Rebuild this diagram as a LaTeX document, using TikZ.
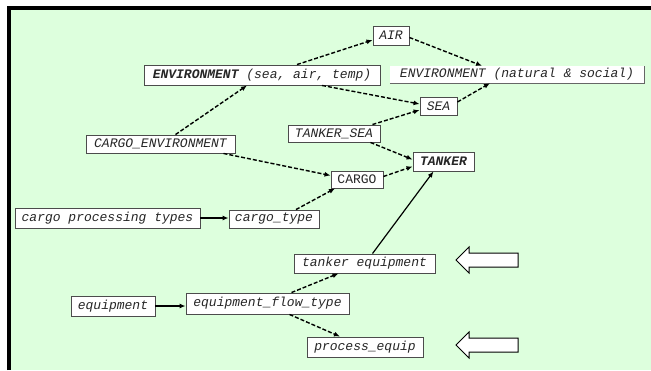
\documentclass[tikz,border=0pt]{standalone}
\usepackage{fontspec}
\setmonofont{Liberation Mono}
\usetikzlibrary{arrows.meta,shadows}
\definecolor{paneGreen}{RGB}{221,255,221}
\begin{document}
\begin{tikzpicture}[x=1pt,y=-1pt,
  box/.style={draw=black!70, line width=0.9pt, fill=white, inner sep=0pt,
    font=\fontsize{13}{13}\selectfont\ttfamily\itshape, text=black!85,
    drop shadow={shadow xshift=1.2pt, shadow yshift=-1.2pt, fill=black!45, opacity=1}},
  plainbox/.style={fill=white, inner sep=0pt,
    font=\fontsize{13}{13}\selectfont\ttfamily\itshape, text=black!85},
  link/.style={line width=1.4pt, dash pattern=on 4pt off 2pt, -{Latex[length=6pt,width=5pt]}},
  solidlink/.style={line width=1.2pt, -{Latex[length=6pt,width=5pt]}},
  hollow/.style={draw=black, line width=1pt, fill=white}]
\useasboundingbox (0,0) rectangle (651,370);
% panel
\fill[white] (0,0) rectangle (651,370);
\fill[paneGreen] (9,8) rectangle (651,370);
\draw[line width=3.5pt] (9,370) -- (9,8) -- (651,8);

% nodes
\node[box, minimum width=36pt, minimum height=19pt] (air) at (391,35.5) {AIR};
\node[box, minimum width=236pt, minimum height=20pt] (envs) at (262,75) {\textbf{ENVIRONMENT} (sea, air, temp)};
\node[plainbox, minimum width=254pt, minimum height=17pt] (envn) at (517,74.5) {ENVIRONMENT (natural \& social)};
\draw[black!60, line width=1.2pt] (envn.south west) -- (envn.south east) -- (envn.north east);
\node[box, minimum width=37pt, minimum height=18pt] (sea) at (438.5,106) {SEA};
\node[box, minimum width=92pt, minimum height=17pt] (tsea) at (334,133.5) {TANKER\_SEA};
\node[box, minimum width=149pt, minimum height=18pt] (cenv) at (160.5,144) {CARGO\_ENVIRONMENT};
\node[box, minimum width=61pt, minimum height=19pt] (tanker) at (443.5,161.5) {\textbf{TANKER}};
\node[box, minimum width=52pt, minimum height=17pt, font=\fontsize{13}{13}\selectfont\ttfamily] (cargo) at (357,179.5) {CARGO};
\node[box, minimum width=185pt, minimum height=20pt] (cpt) at (107.5,218) {cargo processing types};
\node[box, minimum width=90pt, minimum height=18pt] (ctype) at (274,219) {cargo\_type};
\node[box, minimum width=141pt, minimum height=19pt] (teq) at (364.5,263.5) {tanker equipment};
\node[box, minimum width=84pt, minimum height=20pt] (equip) at (113,306) {equipment};
\node[box, minimum width=163pt, minimum height=21pt] (eft) at (267.5,303.5) {equipment\_flow\_type};
\node[box, minimum width=116pt, minimum height=20pt] (proc) at (365,347) {process\_equip};

% connectors
\draw[link] ([xshift=35pt]envs.north) -- ([yshift=-4.5pt]air.west);
\draw[link] ([yshift=-2pt]air.east) -- ([xshift=-35pt]envn.north);
\draw[link] ([xshift=60pt]envs.south) -- ([yshift=2pt]sea.west);
\draw[link] ([yshift=4pt]sea.east) -- ([xshift=-27pt]envn.south);
\draw[link] ([xshift=-8pt]tsea.north east) -- ([yshift=-4pt]sea.west);
\draw[link] ([xshift=-10pt]tsea.south east) -- ([yshift=2pt]tanker.west);
\draw[link] ([xshift=15pt]cenv.north) -- ([xshift=-15pt]envs.south);
\draw[link] ([xshift=-12pt]cenv.south east) -- ([yshift=4pt]cargo.west);
\draw[link] ([yshift=3pt]cargo.east) -- ([yshift=-5pt]tanker.west);
\draw[link] ([xshift=22pt]ctype.north) -- ([xshift=-22pt]cargo.south);
\draw[solidlink] (cpt.east) -- (cpt.east -| ctype.west);
\draw[solidlink] ([xshift=8pt]teq.north) -- ([xshift=-10pt]tanker.south);
\draw[solidlink] (equip.east) -- (equip.east -| eft.west);
\draw[link] ([xshift=24pt]eft.north) -- ([xshift=-26pt]teq.south);
\draw[link] ([xshift=22pt]eft.south) -- ([xshift=-25pt]proc.north);

% hollow pointers
\draw[hollow] (456,260) -- (469,247) -- (469,253) -- (518,253) -- (518,267) -- (469,267) -- (469,273) -- cycle;
\draw[hollow] (456,345) -- (469,332) -- (469,338) -- (518,338) -- (518,352) -- (469,352) -- (469,358) -- cycle;
\end{tikzpicture}
\end{document}
